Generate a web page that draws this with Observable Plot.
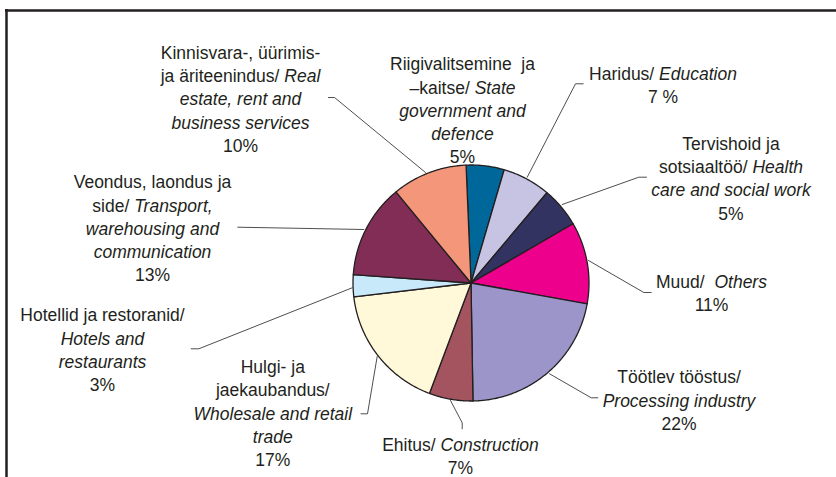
<!DOCTYPE html>
<html>
<head>
<meta charset="utf-8">
<script src="https://cdn.jsdelivr.net/npm/d3@7"></script>
<script src="https://cdn.jsdelivr.net/npm/@observablehq/plot@0.6"></script>
<style>
  html, body { margin: 0; padding: 0; background: #fff; }
  #chart { width: 836px; height: 477px; overflow: hidden; }
</style>
</head>
<body>
<div id="chart"></div>
<script>
// ---- Data (clockwise from the top of the pie) ----
const sectors = [
  "Riigivalitsemine ja –kaitse / State government and defence",
  "Haridus / Education",
  "Tervishoid ja sotsiaaltöö / Health care and social work",
  "Muud / Others",
  "Töötlev tööstus / Processing industry",
  "Ehitus / Construction",
  "Hulgi- ja jaekaubandus / Wholesale and retail trade",
  "Hotellid ja restoranid / Hotels and restaurants",
  "Veondus, laondus ja side / Transport, warehousing and communication",
  "Kinnisvara-, üürimis- ja äriteenindus / Real estate, rent and business services"
];
// slice shares (%)
const shares = [5.2, 6.6, 5.5, 11.2, 21.9, 6.0, 17.4, 3.0, 12.9, 10.3];
// percentage labels as printed
const pctLabels = ["5%", "7 %", "5%", "11%", "22%", "7%", "17%", "3%", "13%", "10%"];
// label text lines (*...* = italic)
const labelText = [
  "Riigivalitsemine\u00a0 ja\n–kaitse/ *State*\n*government and*\n*defence*",
  "Haridus/ *Education*",
  "Tervishoid ja\nsotsiaaltöö/ *Health*\n*care and social work*",
  "Muud/\u00a0 *Others*",
  "Töötlev tööstus/\n*Processing industry*",
  "Ehitus/ *Construction*",
  "Hulgi- ja\njaekaubandus/\n*Wholesale and retail*\n*trade*",
  "Hotellid ja restoranid/\n*Hotels and*\n*restaurants*",
  "Veondus, laondus ja\nside/ *Transport,*\n*warehousing and*\n*communication*",
  "Kinnisvara-, üürimis-\nja äriteenindus/ *Real*\n*estate, rent and*\n*business services*"
];
const colors = ["#00679b", "#c6c3e3", "#333362", "#ec008c", "#9b95c9",
                "#a3545f", "#fff9d9", "#c8e9f9", "#812d56", "#f4967a"];

// ---- Layout (pixel-like plot coordinates) ----
const W = 836, H = 477;
const cx = 470.5, cy = 282.5, R = 118;
const startAngle = -2.4 * Math.PI / 180;
const labelPos = [
  [462, 109], [662.5, 83.7], [730.5, 176.7], [711, 291.3], [678.5, 398.7],
  [460, 454.5], [272.3, 411.7], [102, 348.3], [152, 227], [240, 97.5]
];
const leaderPaths = [
  null,
  [[582.7, 83.3], [575, 83.3], [526.7, 176.7]],
  [[646, 176.7], [638.3, 176.7], [561.7, 204]],
  [[588, 260], [643.3, 292], [650.7, 292]],
  [[549, 373.3], [590.7, 397.3], [597.3, 397.3]],
  [[450, 400], [461.7, 422.3], [461.7, 428.3]],
  [[376.7, 356], [367, 413.3], [360.5, 413.3]],
  [[351.7, 287.3], [198.3, 348.3], [190.7, 348.3]],
  [[363.3, 229], [237.3, 226.7]],
  [[425, 172], [334, 97], [328, 97]]
];

// ---- Build slice polygons from the data with d3.pie ----
const arcs = d3.pie().sort(null).value(d => d).startAngle(startAngle)
  .endAngle(startAngle + 2 * Math.PI)(shares);
const slicePts = [];
arcs.forEach((a, i) => {
  slicePts.push({k: i, x: cx, y: cy, c: colors[i]});
  const n = Math.max(4, Math.ceil((a.endAngle - a.startAngle) / 0.01));
  for (let j = 0; j <= n; j++) {
    const t = a.startAngle + (a.endAngle - a.startAngle) * j / n;
    slicePts.push({k: i, x: cx + R * Math.sin(t), y: cy - R * Math.cos(t), c: colors[i]});
  }
  slicePts.push({k: i, x: cx, y: cy, c: colors[i]});
});

const leaderPts = [];
leaderPaths.forEach((p, i) => { if (p) p.forEach(([x, y]) => leaderPts.push({k: i, x, y})); });

const labels = sectors.map((s, i) => ({
  text: labelText[i] + "\n" + pctLabels[i],
  x: labelPos[i][0], y: labelPos[i][1]
}));

const ink = "#231f20";
const chart = Plot.plot({
  width: W, height: H,
  margin: 0,
  x: {domain: [0, W], range: [0, W], axis: null},
  y: {domain: [0, H], range: [0, H], axis: null},
  color: {type: "identity"},
  style: {fontFamily: "'Liberation Sans', Arial, sans-serif", background: "#fff", color: ink},
  marks: [
    Plot.ruleY([10], {x1: 5, x2: W, stroke: ink, strokeWidth: 2.5}),
    Plot.ruleX([6], {y1: 9, y2: H, stroke: ink, strokeWidth: 2.5}),
    Plot.line(leaderPts, {x: "x", y: "y", z: "k", stroke: "#3a3a3a", strokeWidth: 0.9, curve: "linear"}),
    Plot.line(slicePts, {x: "x", y: "y", z: "k", fill: "c", stroke: ink, strokeWidth: 1.3, strokeLinejoin: "round", curve: "linear"}),
    Plot.text(labels, {x: "x", y: "y", text: "text", fontSize: 17.5, lineHeight: 1.33, textAnchor: "middle", fill: ink})
  ]
});

// render *...* segments in italics
d3.select(chart).selectAll("text, tspan").each(function() {
  const el = this;
  if (el.childNodes.length !== 1 || el.firstChild.nodeType !== 3) return;
  const s = el.textContent;
  if (!s.includes("*")) return;
  const parts = s.split("*");
  el.textContent = "";
  parts.forEach((p, i) => {
    if (!p) return;
    const t = document.createElementNS("http://www.w3.org/2000/svg", "tspan");
    if (i % 2 === 1) t.setAttribute("font-style", "italic");
    t.textContent = p;
    el.appendChild(t);
  });
});

document.getElementById("chart").appendChild(chart);
</script>
</body>
</html>
